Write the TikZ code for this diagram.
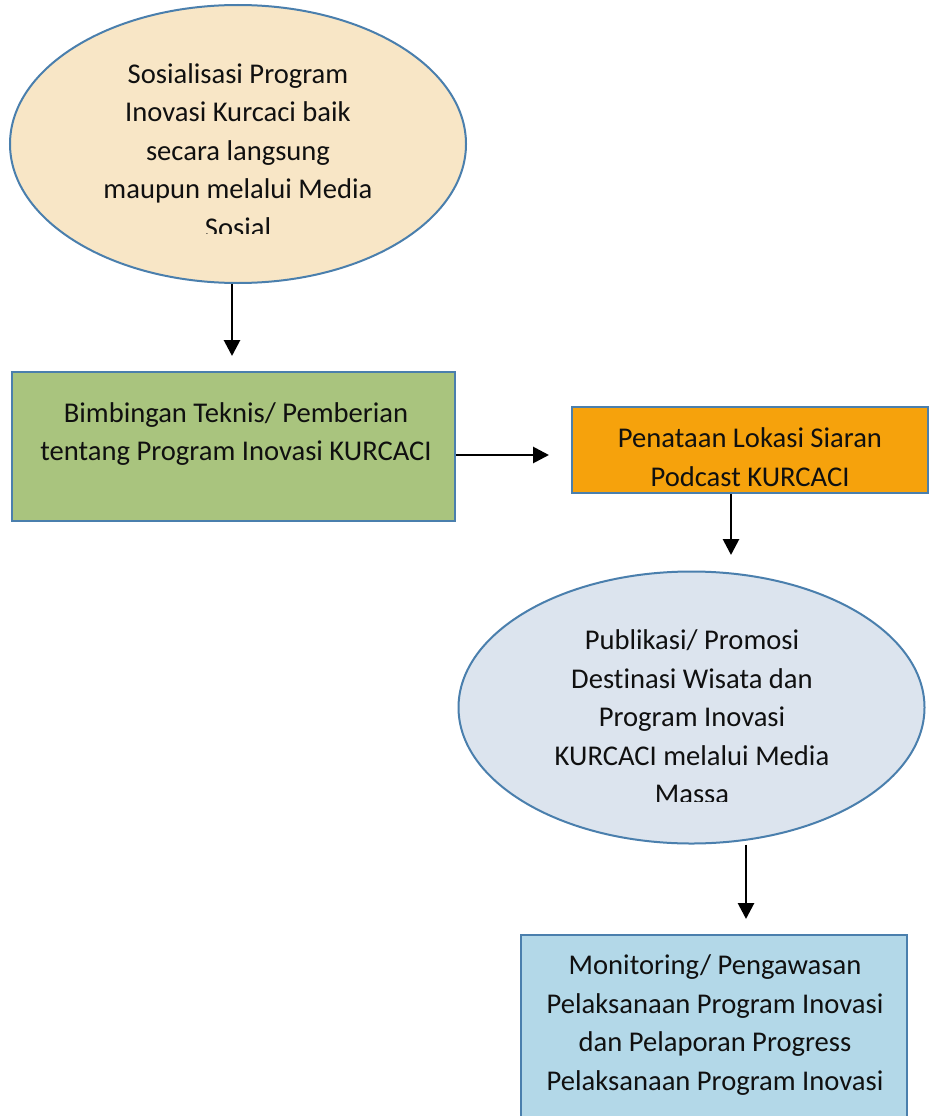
\documentclass[tikz,border=0pt]{standalone}
\usepackage{fontspec}
\setmainfont{Carlito}[Ligatures=NoCommon]
\usetikzlibrary{shapes.geometric,arrows.meta}
\definecolor{edgeblue}{HTML}{4A7FAD}
\definecolor{beige}{HTML}{F8E6C6}
\definecolor{olive}{HTML}{A9C47E}
\definecolor{orangebox}{HTML}{F6A20C}
\definecolor{paleblue}{HTML}{DCE4EE}
\definecolor{lightblue}{HTML}{B3D8E8}
\definecolor{txt}{HTML}{101010}
\tikzset{
  shapeline/.style={draw=edgeblue, line width=2pt, inner sep=0pt},
  ellbox/.style={shapeline, ellipse},
  rectbox/.style={shapeline, rectangle},
  label/.style={align=center, text=txt, font=\fontsize{28.6}{38.5}\selectfont, inner sep=0pt},
  flow/.style={line width=2.8pt, -{Triangle[length=16pt,width=16pt]}}
}
\begin{document}
\begin{tikzpicture}[x=1pt,y=-1pt]
\useasboundingbox (0,0) rectangle (930,1116);
\fill[white] (0,0) rectangle (930,1116);
% shapes
\node[ellbox, fill=beige, minimum width=456pt, minimum height=278pt] (e1) at (238,144) {};
\node[rectbox, fill=olive, minimum width=443pt, minimum height=149pt] (b1) at (233.5,446.5) {};
\node[rectbox, fill=orangebox, minimum width=356pt, minimum height=86pt] (b2) at (750,450) {};
\node[ellbox, fill=paleblue, minimum width=466pt, minimum height=272pt] (e2) at (691.5,707.5) {};
\node[rectbox, fill=lightblue, minimum width=386pt, minimum height=200pt] (b3) at (714,1035) {};
% texts
\begin{scope}
\clip (0,40) rectangle (930,233);
\node[label] (t1) at (238,150.5) {Sosialisasi Program\\Inovasi Kurcaci baik\\secara langsung\\maupun melalui Media\\Sosial};
\end{scope}
\node[label] (t2) at (236,434) {Bimbingan Teknis/ Pemberian\\tentang Program Inovasi KURCACI};
\node[label] (t3) at (750,457) {Penataan Lokasi Siaran\\Podcast KURCACI};
\begin{scope}
\clip (0,600) rectangle (930,801);
\node[label] (t4) at (692,717) {Publikasi/ Promosi\\Destinasi Wisata dan\\Program Inovasi\\KURCACI melalui Media\\Massa};
\end{scope}
\node[label] (t5) at (715,1025) {Monitoring/ Pengawasan\\Pelaksanaan Program Inovasi\\dan Pelaporan Progress\\Pelaksanaan Program Inovasi};
% connectors
\coordinate (a1e) at (232,356);
\coordinate (a2e) at (549,455);
\coordinate (a3e) at (731,555);
\coordinate (a4e) at (746,919);
\draw[flow] (e1.south -| a1e) -- (a1e);
\draw[flow] (b1.east |- a2e) -- (a2e);
\draw[flow] (b2.south -| a3e) -- (a3e);
\draw[flow] (e2.south -| a4e) -- (a4e);
\end{tikzpicture}
\end{document}
